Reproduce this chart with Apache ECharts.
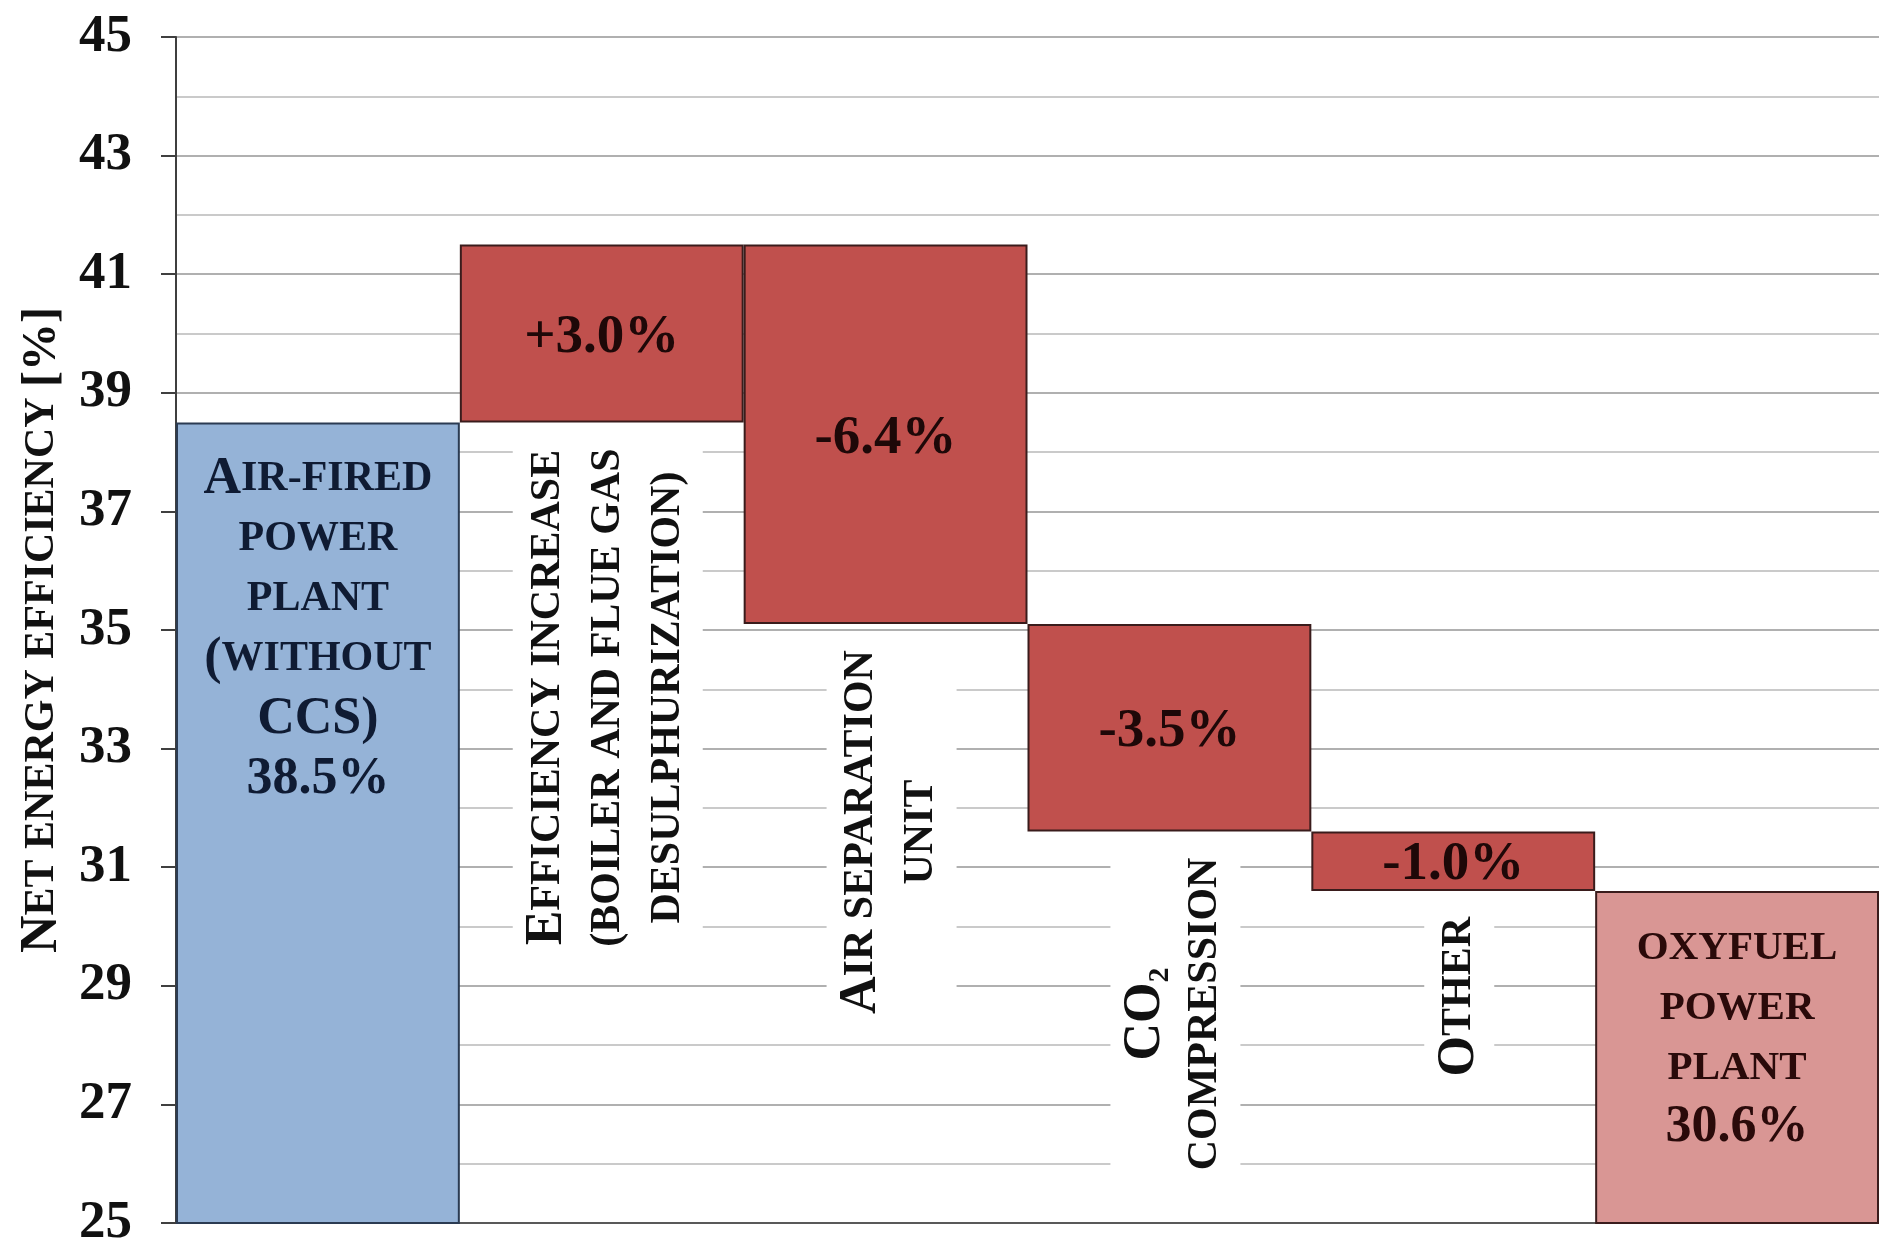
<!DOCTYPE html>
<html>
<head>
<meta charset="utf-8">
<script src="https://cdn.jsdelivr.net/npm/echarts@6/dist/echarts.min.js"></script>
<style>html,body{margin:0;padding:0;background:#fff}#c{width:1879px;height:1246px}</style>
</head>
<body>
<div id="c"></div>
<script>
// ---- data ----
const categories = ['Air-fired power plant (without CCS)', 'Efficiency increase (boiler and flue gas desulphurization)', 'Air separation unit', 'CO2 compression', 'Other', 'Oxyfuel power plant'];
const startValue = 38.5;
const changes = [3.0, -6.4, -3.5, -1.0];
const endValue = 30.6;
const changeLabels = ['+3.0%', '-6.4%', '-3.5%', '-1.0%'];
const totalLabels = [
  '{B|A}{s|IR-FIRED}\n{s|POWER}\n{s|PLANT}\n{B|(}{s|WITHOUT}\n{B|CCS)}\n{B|38.5%}',
  '{s|OXYFUEL}\n{s|POWER}\n{s|PLANT}\n{B|30.6%}'
];
const stepLabels = [
  '{B|E}{s|FFICIENCY INCREASE}\n{s|(BOILER AND FLUE GAS}\n{s|DESULPHURIZATION)}',
  '{B|A}{s|IR SEPARATION}\n{s|UNIT}',
  '{B|CO}{sub|2}\n{s|COMPRESSION}',
  '{B|O}{s|THER}'
];
const yMin = 25, yMax = 45, yInterval = 2;
const yAxisName = '{N|N}{s|ET ENERGY EFFICIENCY }{b|[%]}';

// ---- derived waterfall levels ----
const levels = [startValue];
changes.forEach((c, i) => levels.push(Math.round((levels[i] + c) * 10) / 10));
const lows = changes.map((c, i) => Math.min(levels[i], levels[i + 1]));
const baseData = [0].concat(lows, [0]);
const heightData = [startValue].concat(changes.map(Math.abs), [endValue]);

const FONT = '"Liberation Serif", "Times New Roman", serif';
const rs = (size, color, extra) => Object.assign({fontSize: size, fontWeight: 'bold', fontFamily: FONT, color: color, lineHeight: 60}, extra || {});

const chart = echarts.init(document.getElementById('c'));

const visData = heightData.map((h, i) => {
  if (i === 0) {
    return {value: h, itemStyle: {color: '#95B3D7', borderColor: '#2B3B52'},
      label: {show: true, position: 'insideTop', distance: 27, formatter: totalLabels[0],
        rich: {B: rs(52, '#0F1B33'), s: rs(42, '#0F1B33')}}};
  }
  if (i === heightData.length - 1) {
    return {value: h, itemStyle: {color: '#D99694', borderColor: '#3A1C1C'},
      label: {show: true, position: 'insideTop', distance: 27, formatter: totalLabels[1],
        rich: {B: rs(52, '#2A0A0A'), s: rs(41, '#2A0A0A')}}};
  }
  return {value: h, itemStyle: {color: '#C0504D', borderColor: '#3A1C1C'},
    label: {show: true, position: 'inside', offset: [0, 4], formatter: changeLabels[i - 1],
      fontSize: 55, fontWeight: 'bold', fontFamily: FONT, color: '#1E0808'}};
});

chart.setOption({
  animation: false,
  backgroundColor: '#ffffff',
  grid: {left: 176, right: 0, top: 37, bottom: 23, containLabel: false, outerBoundsMode: 'none'},
  xAxis: {
    type: 'category', data: categories, boundaryGap: true,
    axisLabel: {show: false}, axisTick: {show: false},
    axisLine: {show: true, lineStyle: {color: '#595959', width: 2}},
    splitLine: {show: false}
  },
  yAxis: {
    type: 'value', min: yMin, max: yMax, interval: yInterval,
    axisLine: {show: true, lineStyle: {color: '#3F3F3F', width: 2}},
    axisTick: {show: true, length: 15, lineStyle: {color: '#3F3F3F', width: 2}},
    axisLabel: {margin: 44, fontSize: 53, fontWeight: 'bold', fontFamily: FONT, color: '#111'},
    splitLine: {show: true, lineStyle: {color: '#B0B0B0', width: 2}},
    minorTick: {show: false, splitNumber: 2},
    minorSplitLine: {show: true, lineStyle: {color: '#CACACA', width: 2}},
    name: yAxisName, nameLocation: 'middle', nameGap: 102, nameRotate: 90,
    nameTextStyle: {rich: {N: rs(52, '#111', {lineHeight: 52}), s: rs(42, '#111', {lineHeight: 52}), b: rs(48, '#111', {lineHeight: 52})}}
  },
  series: [
    {type: 'bar', stack: 'w', data: baseData, barCategoryGap: '0%', silent: true,
      itemStyle: {color: 'rgba(0,0,0,0)', borderWidth: 0}},
    {type: 'bar', stack: 'w', data: visData, barCategoryGap: '0%',
      itemStyle: {borderWidth: 2}},
    {type: 'scatter', symbolSize: 1, itemStyle: {color: 'rgba(0,0,0,0)', opacity: 1}, silent: true, z: 5,
      data: lows.map((v, i) => [i + 1, v]),
      label: {show: true, position: 'inside', rotate: 90, align: 'right', verticalAlign: 'middle',
        offset: [-16, 6], backgroundColor: '#ffffff', padding: [5, 10, 5, 6], opacity: 1,
        formatter: p => stepLabels[p.dataIndex],
        rich: {
          B: rs(52, '#111', {align: 'center'}),
          s: rs(42, '#111', {align: 'center'}),
          sub: rs(30, '#111', {align: 'center', verticalAlign: 'bottom'})
        }}}
  ]
});
</script>
</body>
</html>
